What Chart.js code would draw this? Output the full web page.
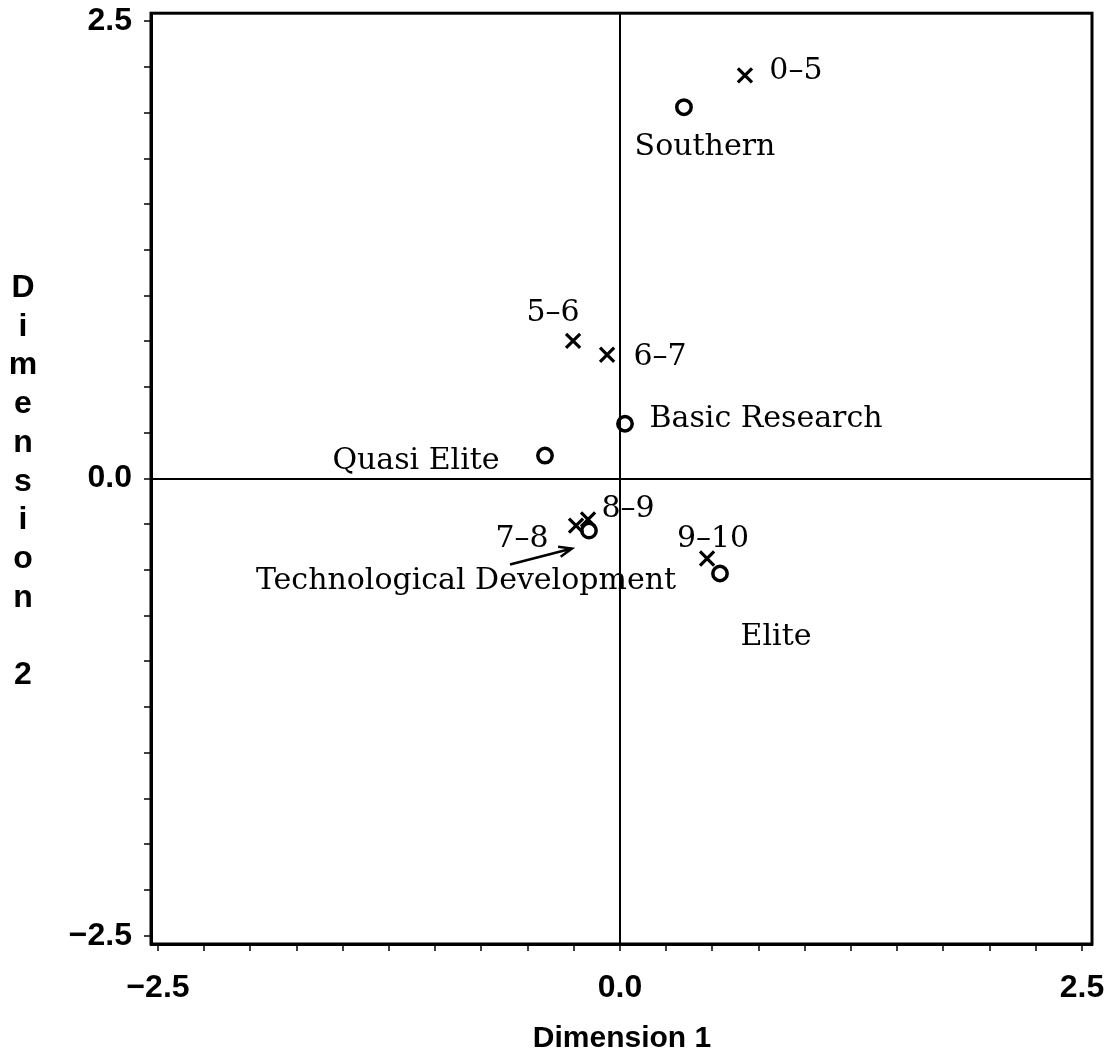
<!DOCTYPE html>
<html>
<head>
<meta charset="utf-8">
<script src="https://cdn.jsdelivr.net/npm/chart.js@4.4.1/dist/chart.umd.min.js"></script>
<style>
  html, body { margin: 0; padding: 0; background: #fff; }
  #wrap { width: 1111px; height: 1055px; }
</style>
</head>
<body>
<div id="wrap"><canvas id="c" width="1111" height="1055"></canvas></div>
<script>
// ---- data ----
const intervalLabels = ['0–5', '5–6', '6–7', '7–8', '8–9', '9–10'];
const intervalX = [0.676, -0.254, -0.070, -0.238, -0.173, 0.471];
const intervalY = [2.205, 0.753, 0.677, -0.257, -0.224, -0.437];

const typeLabels = ['Southern', 'Basic Research', 'Quasi Elite', 'Technological Development', 'Elite'];
const typeX = [0.346, 0.027, -0.406, -0.168, 0.541];
const typeY = [2.031, 0.300, 0.126, -0.284, -0.519];

const tickValues = [-2.5, 0, 2.5];
const tickLabels = ['−2.5', '0.0', '2.5'];
const minorStep = 0.25;

const xTitle = 'Dimension 1';
const yTitle = 'Dimension 2';

// label placement (pixel offsets of label centre from its marker)
const intervalLabelOffsets = [[51, -7], [-20, -31], [53, -1], [-54, 10], [40, -14], [6, -23]];
const typeLabelOffsets = [[21, 37], [141, -8], [-129, 2], [-123, 47], [56, 60]];

const intervalPts = intervalX.map((x, i) => ({ x: x, y: intervalY[i] }));
const typePts = typeX.map((x, i) => ({ x: x, y: typeY[i] }));

const SANS = '"Liberation Sans", Arial, sans-serif';
const SERIF = '"DejaVu Serif", serif';

function buildTicks(scale) {
  const t = [];
  for (let k = -10; k <= 10; k++) t.push({ value: k * minorStep });
  scale.ticks = t;
}
function tickLabel(v) {
  for (let i = 0; i < tickValues.length; i++) {
    if (Math.abs(v - tickValues[i]) < 1e-9) return tickLabels[i];
  }
  return '';
}
const zeroColor = (ctx) => (ctx.tick && Math.abs(ctx.tick.value) < 1e-9) ? '#000' : 'rgba(0,0,0,0)';

const annotate = {
  id: 'annotate',
  afterDraw(chart) {
    const ctx = chart.ctx;
    const a = chart.chartArea;
    const xs = chart.scales.x, ys = chart.scales.y;
    ctx.save();
    // frame
    ctx.strokeStyle = '#000';
    ctx.lineWidth = 3;
    ctx.strokeRect(a.left, a.top, a.right - a.left, a.bottom - a.top);

    // point labels
    ctx.fillStyle = '#000';
    ctx.font = '30px ' + SERIF;
    ctx.textAlign = 'center';
    ctx.textBaseline = 'alphabetic';
    intervalPts.forEach((p, i) => {
      const px = xs.getPixelForValue(p.x), py = ys.getPixelForValue(p.y);
      const o = intervalLabelOffsets[i];
      ctx.fillText(intervalLabels[i], px + o[0], py + o[1] + 11);
    });
    typePts.forEach((p, i) => {
      const px = xs.getPixelForValue(p.x), py = ys.getPixelForValue(p.y);
      const o = typeLabelOffsets[i];
      ctx.fillText(typeLabels[i], px + o[0], py + o[1] + 11);
    });

    // arrow pointing to Technological Development
    const td = typePts[3];
    const tx = xs.getPixelForValue(td.x), ty = ys.getPixelForValue(td.y);
    const x0 = tx - 79, y0 = ty + 34, x1 = tx - 17, y1 = ty + 18;
    ctx.lineWidth = 2.5;
    ctx.beginPath();
    ctx.moveTo(x0, y0); ctx.lineTo(x1, y1);
    const ang = Math.atan2(y1 - y0, x1 - x0);
    const hl = 14, ha = 0.38;
    ctx.moveTo(x1 - hl * Math.cos(ang - ha), y1 - hl * Math.sin(ang - ha));
    ctx.lineTo(x1, y1);
    ctx.lineTo(x1 - hl * Math.cos(ang + ha), y1 - hl * Math.sin(ang + ha));
    ctx.stroke();

    // axis titles
    ctx.font = 'bold 30px ' + SANS;
    ctx.textAlign = 'center';
    ctx.fillText(xTitle, (a.left + a.right) / 2 + 0.5, 1047);
    ctx.font = 'bold 32px ' + SANS;
    let base = 297;
    yTitle.split('').forEach((ch) => {
      if (ch !== ' ') ctx.fillText(ch, 23, base);
      base += 38.7;
    });
    ctx.restore();
  }
};

new Chart(document.getElementById('c'), {
  type: 'scatter',
  data: {
    datasets: [
      {
        label: 'intervals',
        data: intervalPts,
        pointStyle: 'crossRot',
        pointRadius: 10,
        pointHoverRadius: 10,
        pointBorderWidth: 3.2,
        pointBorderColor: '#000',
        pointBackgroundColor: 'rgba(0,0,0,0)'
      },
      {
        label: 'types',
        data: typePts,
        pointStyle: 'circle',
        pointRadius: 7.2,
        pointHoverRadius: 7.2,
        pointBorderWidth: 3.5,
        pointBorderColor: '#000',
        pointBackgroundColor: 'rgba(0,0,0,0)'
      }
    ]
  },
  options: {
    responsive: false,
    animation: false,
    devicePixelRatio: 1,
    events: [],
    layout: { padding: { left: 0, top: 12, right: 19, bottom: 0 } },
    plugins: { legend: { display: false }, tooltip: { enabled: false } },
    scales: {
      x: {
        type: 'linear',
        min: -2.538, max: 2.554,
        afterBuildTicks: buildTicks,
        afterFit: (s) => { s.height = 1055 - 944; s.paddingLeft = 0; s.paddingRight = 0; },
        border: { display: true, color: '#000', width: 3 },
        grid: { drawOnChartArea: true, color: zeroColor, lineWidth: 2, drawTicks: true, tickLength: 7, tickColor: '#000', tickWidth: 1.5 },
        ticks: {
          autoSkip: false, maxRotation: 0, padding: 18,
          color: '#000', font: { family: SANS, size: 32, weight: 'bold' },
          callback: (v) => tickLabel(v)
        }
      },
      y: {
        type: 'linear',
        min: -2.545, max: 2.545,
        afterBuildTicks: buildTicks,
        afterFit: (s) => { s.width = 151; s.paddingTop = 0; s.paddingBottom = 0; },
        border: { display: true, color: '#000', width: 3 },
        grid: { drawOnChartArea: true, color: zeroColor, lineWidth: 2, drawTicks: true, tickLength: 7, tickColor: '#000', tickWidth: 1.5 },
        ticks: {
          autoSkip: false, padding: 12,
          color: '#000', font: { family: SANS, size: 32, weight: 'bold' },
          callback: (v) => tickLabel(v)
        }
      }
    }
  },
  plugins: [annotate]
});
</script>
</body>
</html>
